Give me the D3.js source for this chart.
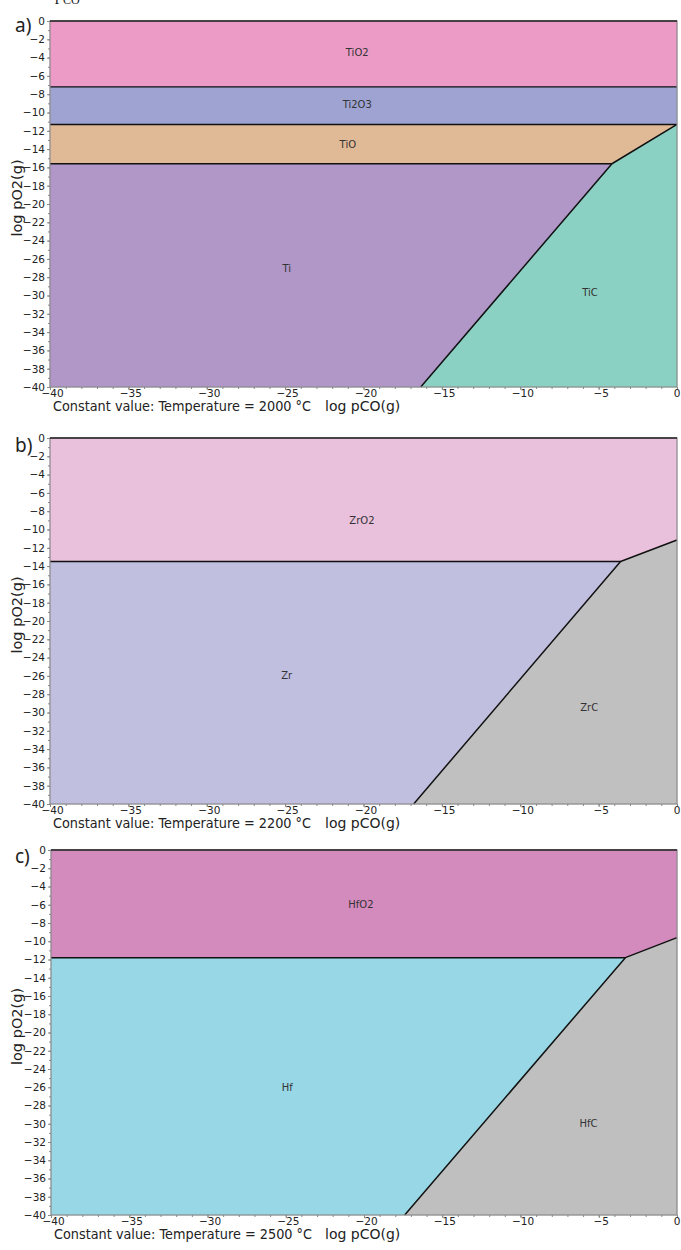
<!DOCTYPE html>
<html>
<head>
<meta charset="utf-8">
<script src="https://cdn.jsdelivr.net/npm/d3@7"></script>
<style>
html,body{margin:0;padding:0;background:#fff;}
svg{display:block;}
</style>
</head>
<body>
<script>
// ---------- data ----------
const panelTags = ["a)", "b)", "c)"];
const temperatures = [2000, 2200, 2500];
const xMajorTicks = [-40, -35, -30, -25, -20, -15, -10, -5, 0];
const yMajorTicks = [0, -2, -4, -6, -8, -10, -12, -14, -16, -18, -20, -22, -24, -26, -28, -30, -32, -34, -36, -38, -40];

// panel a (Ti-O-C, 2000 °C)
const phasesA = ["TiO2", "Ti2O3", "TiO", "Ti", "TiC"];
const oxideLevelsA = [-7.2, -11.3, -15.6];     // log pO2 of horizontal oxide boundaries (top→bottom)
const tripleA = [-4.15, -15.6];                 // oxide / metal / carbide triple point
const carbideRightA = -11.3;                    // log pO2 where oxide/carbide line meets log pCO = 0
const carbideBottomA = -16.35;                  // log pCO where metal/carbide line meets log pO2 = -40
const labelXA = [-20.4, -20.4, -21.0, -24.9, -5.55];
const labelYA = [-3.4, -9.1, -13.45, -27, -29.7];

// panel b (Zr-O-C, 2200 °C)
const phasesB = ["ZrO2", "Zr", "ZrC"];
const oxideLevelsB = [-13.5];
const tripleB = [-3.6, -13.5];
const carbideRightB = -11.15;
const carbideBottomB = -16.8;
const labelXB = [-20.1, -24.9, -5.6];
const labelYB = [-9, -26, -29.5];

// panel c (Hf-O-C, 2500 °C)
const phasesC = ["HfO2", "Hf", "HfC"];
const oxideLevelsC = [-11.8];
const tripleC = [-3.3, -11.8];
const carbideRightC = -9.6;
const carbideBottomC = -17.4;
const labelXC = [-20.2, -24.9, -5.65];
const labelYC = [-6, -26, -30];

// ---------- styles ----------
const colorsA = ["#eb9bc6", "#9ea3d2", "#e0b996", "#b097c8", "#8bd1c3"];
const colorsB = ["#e9c1dc", "#c1bfdf", "#c0c0c0"];
const colorsC = ["#d38abd", "#98d8e6", "#bfbfbf"];

const panels = [
  {phases: phasesA, levels: oxideLevelsA, triple: tripleA, right: carbideRightA, bottom: carbideBottomA, lx: labelXA, ly: labelYA, colors: colorsA,
   box: {top: 21, bottom: 387, left: 50, right: 677}, tagY: 32},
  {phases: phasesB, levels: oxideLevelsB, triple: tripleB, right: carbideRightB, bottom: carbideBottomB, lx: labelXB, ly: labelYB, colors: colorsB,
   box: {top: 438, bottom: 804, left: 50, right: 677}, tagY: 452},
  {phases: phasesC, levels: oxideLevelsC, triple: tripleC, right: carbideRightC, bottom: carbideBottomC, lx: labelXC, ly: labelYC, colors: colorsC,
   box: {top: 850, bottom: 1215, left: 51, right: 677}, tagY: 863}
];

const W = 681, H = 1250;
const FONT = "'DejaVu Sans', Verdana, sans-serif";
const svg = d3.select("body").append("svg").attr("width", W).attr("height", H)
  .style("font-family", FONT);

// cut-off caption fragment at very top
const frag = svg.append("text").attr("x", 55).attr("y", 0).attr("font-size", 16).attr("fill", "#222")
  .style("font-family", "'Liberation Serif', serif");
frag.append("tspan").text("p");
frag.append("tspan").attr("dy", 4).attr("font-size", 12).text("CO");

panels.forEach((p, i) => {
  const b = p.box;
  const x = d3.scaleLinear().domain([-40, 0]).range([b.left, b.right]);
  const y = d3.scaleLinear().domain([-40, 0]).range([b.bottom, b.top]);
  const g = svg.append("g");
  const line = d3.line().x(d => x(d[0])).y(d => y(d[1]));

  const n = p.levels.length;
  const polys = [];
  let top = 0;
  for (let k = 0; k < n - 1; k++) {
    polys.push([[-40, top], [0, top], [0, p.levels[k]], [-40, p.levels[k]]]);
    top = p.levels[k];
  }
  polys.push([[-40, top], [0, top], [0, p.right], p.triple, [-40, p.triple[1]]]);
  polys.push([[-40, p.triple[1]], p.triple, [p.bottom, -40], [-40, -40]]);
  polys.push([p.triple, [0, p.right], [0, -40], [p.bottom, -40]]);

  g.selectAll("path.region").data(polys).join("path")
    .attr("class", "region")
    .attr("d", d => line(d) + "Z")
    .attr("fill", (d, k) => p.colors[k])
    .attr("stroke", (d, k) => p.colors[k]).attr("stroke-width", 0.5);

  // boundaries
  const bounds = [];
  for (let k = 0; k < n - 1; k++) bounds.push([[-40, p.levels[k]], [0, p.levels[k]]]);
  bounds.push([[-40, p.triple[1]], p.triple]);
  bounds.push([[p.bottom, -40], p.triple, [0, p.right]]);
  g.selectAll("path.bound").data(bounds).join("path")
    .attr("class", "bound")
    .attr("d", line).attr("fill", "none")
    .attr("stroke", "#111").attr("stroke-width", (d, k) => (k === 0 && n > 1) ? 1.1 : 1.5)
    .attr("stroke-linejoin", "round");

  // phase labels
  g.selectAll("text.phase").data(p.phases).join("text")
    .attr("class", "phase")
    .attr("x", (d, k) => x(p.lx[k])).attr("y", (d, k) => y(p.ly[k]))
    .attr("text-anchor", "middle").attr("dominant-baseline", "central")
    .attr("font-size", 10).attr("fill", "#333").text(d => d);

  // frame
  g.append("rect").attr("x", b.left).attr("y", b.top)
    .attr("width", b.right - b.left).attr("height", b.bottom - b.top)
    .attr("fill", "none").attr("stroke", "#8a8a8a").attr("stroke-width", 1.2);
  g.append("line").attr("x1", b.left).attr("x2", b.right).attr("y1", b.top).attr("y2", b.top)
    .attr("stroke", "#222").attr("stroke-width", 1.6);

  // axes
  const xMinor = d3.range(-40, 1, 1);
  const yMinor = d3.range(-40, 1, 1);
  const xa = g.append("g").attr("transform", `translate(0,${b.bottom})`)
    .call(d3.axisBottom(x).tickValues(xMinor).tickSize(2).tickFormat(""));
  const xa2 = g.append("g").attr("transform", `translate(0,${b.bottom})`)
    .call(d3.axisBottom(x).tickValues(xMajorTicks).tickSize(3).tickPadding(1).tickFormat(d3.format("d")));
  const ya = g.append("g").attr("transform", `translate(${b.left},0)`)
    .call(d3.axisLeft(y).tickValues(yMinor).tickSize(2).tickFormat(""));
  const ya2 = g.append("g").attr("transform", `translate(${b.left},0)`)
    .call(d3.axisLeft(y).tickValues(yMajorTicks).tickSize(3).tickPadding(2).tickFormat(d3.format("d")));
  [xa, xa2, ya, ya2].forEach(a => {
    a.select(".domain").remove();
    a.selectAll("line").attr("stroke", "#888");
    a.selectAll("text").attr("font-size", 10.5).attr("fill", "#222")
      .style("font-family", FONT);
  });
  xa2.selectAll("text").attr("dx", d => d === 0 ? -0.5 : 2).attr("dy", "0.55em");

  // titles
  svg.append("text").attr("x", b.left + 3).attr("y", b.bottom + 24)
    .attr("font-size", 14).attr("fill", "#222")
    .attr("textLength", 258).attr("lengthAdjust", "spacingAndGlyphs")
    .text(`Constant value: Temperature = ${temperatures[i]} °C`);
  svg.append("text").attr("x", 325).attr("y", b.bottom + 24)
    .attr("font-size", 14).attr("fill", "#222").text("log pCO(g)");
  svg.append("text")
    .attr("transform", `translate(22,${(b.top + b.bottom) / 2 - 6}) rotate(-90)`)
    .attr("text-anchor", "middle").attr("font-size", 14.5).attr("fill", "#222")
    .text("log pO2(g)");
  svg.append("text").attr("x", 15).attr("y", p.tagY)
    .attr("font-size", 19).attr("fill", "#222")
    .style("font-family", "'Noto Sans', 'DejaVu Sans', sans-serif")
    .text(panelTags[i]);
});
</script>
</body>
</html>
